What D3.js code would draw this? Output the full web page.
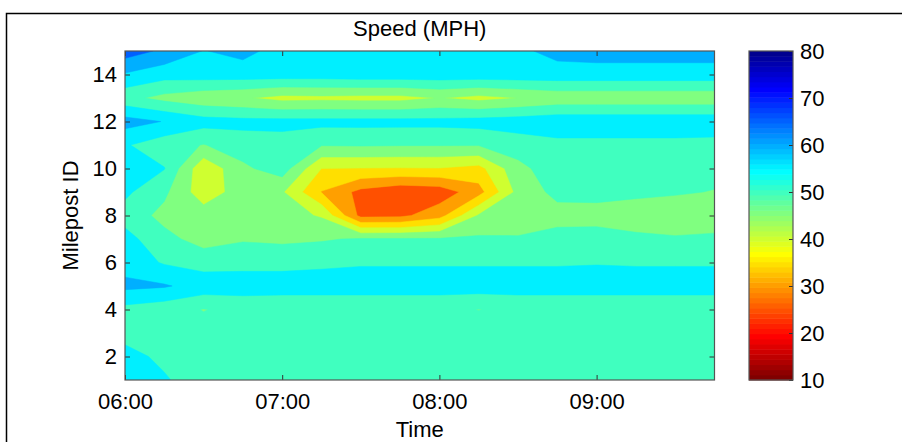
<!DOCTYPE html>
<html>
<head>
<meta charset="utf-8">
<script src="https://cdn.jsdelivr.net/npm/d3@7"></script>
<style>
  body { margin: 0; background: #fff; }
  text { font-family: "Liberation Sans", Arial, sans-serif; }
</style>
</head>
<body>
<div id="chart"></div>
<script>

// samples every 15 min
var times = ["06:00","06:15","06:30","06:45","07:00","07:15","07:30","07:45",
             "08:00","08:15","08:30","08:45","09:00","09:15","09:30","09:45"];
var mileposts = [1,2,3,4,5,6,7,8,9,10,11,12,13,14,15];

// speed (mph), one row per milepost, top row = milepost 15
var speed = [
  [67.5,64,59.8,61.5,58,57.5,57.5,57.5,57.5,58,59,61.5,62,62,62,62],
  [59.5,57,57.5,57.5,57.5,57.5,58,58,58,58,58,58,58,58,58,58],
  [51.5,48.5,46.5,45.5,43.5,43.8,43.5,43.5,45.2,43.5,45.05,46.5,46.5,46.5,46.5,46.5],
  [62,59.8,57,56.5,56.5,56.5,56.5,56.5,56.5,57,57.5,58.5,58.5,58.5,58.5,58.5],
  [55.5,52,49.8,52.5,53,50.3,50.5,50.3,50.3,50.3,52.5,53.5,53.5,53.5,53.5,53.2],
  [58,55.2,41,49,52.5,40,39.8,39.7,39.8,38.3,48.5,53,52,52,51.5,51.5],
  [56,51,42,47.5,45.5,34.8,28.5,26,27,33,46.5,51.5,51.5,51,50.5,49.8],
  [53,48.5,47.5,46.5,47,44.5,28.5,28.8,33,45.5,47,48,48.2,47.5,47,47],
  [56.8,51.5,48,49.5,49,49.5,50.5,50.5,50.5,50.8,50.5,52,52,51,50.5,51],
  [58,54.5,53,53.5,53.5,54,54.5,54.5,54.5,54.5,54.5,54.5,54.7,54.5,54.5,54.5],
  [61.2,60.5,58,57.5,57.5,57.5,57.5,57.5,57.5,57.5,57.5,57.5,57.5,57.5,57.5,57.5],
  [53.5,52,49.8,51.5,51,51,51,51,51,49.9,51,51,51,51,51,51],
  [53.5,52.5,52,52,52,52,52,52,52,52,52,52,52,52,52,52],
  [56.5,54,52,52,52,52,52,52,52,52,52,52,52,52,52,52],
  [57,55.5,52.5,52,52,52,52,52,52,52,52,52,52,52,52,52]
];

var levels = [10,15,20,25,30,35,40,45,50,55,60,65,70,75];
var xTicks = ["06:00","07:00","08:00","09:00"];
var yTicks = [2,4,6,8,10,12,14];
var cbTicks = [10,20,30,40,50,60,70,80];

var width = 902, height = 442;
var plot = {left: 125, right: 714.5, top: 51, bottom: 380};
var cbox = {left: 749, right: 793, top: 51, bottom: 380};

// matlab jet(64), flipped, caxis [10 80]
function jetChan(p) {
  if (p >= 1 && p <= 16) return p / 16;
  if (p >= 17 && p <= 31) return 1;
  if (p >= 32 && p <= 47) return (48 - p) / 16;
  return 0;
}
var jet = d3.range(1, 65).map(function(k) {
  return d3.rgb(255 * jetChan(k - 24), 255 * jetChan(k - 8), 255 * jetChan(k + 8)) + "";
});
function colorOf(v) {
  var k = Math.floor((v - 10) / 70 * 64) + 1;
  k = Math.max(1, Math.min(64, k));
  return jet[64 - k];
}

var parse = d3.timeParse("%H:%M");

var x = d3.scaleTime()
  .domain([parse(times[0]), parse(times[times.length - 1])])
  .range([plot.left, plot.right]);
var y = d3.scaleLinear()
  .domain([1, 15])
  .range([plot.bottom, plot.top]);

// grid coords from d3.contours -> pixels (grid points sit at i + 0.5)
var u = d3.scaleLinear().domain([0.5, times.length - 0.5]).range([x(parse(times[0])), x(parse(times[times.length - 1]))]);
var v = d3.scaleLinear().domain([0.5, mileposts.length - 0.5]).range([y(mileposts[0]), y(mileposts[mileposts.length - 1])]);

var values = [];
speed.slice().reverse().forEach(function(row) { values = values.concat(row); });

var contours = d3.contours()
  .size([times.length, mileposts.length])
  .thresholds(levels)(values);

var path = d3.geoPath(d3.geoTransform({
  point: function(px, py) { this.stream.point(u(px), v(py)); }
}));

var svg = d3.select("#chart").append("svg")
  .attr("width", width)
  .attr("height", height);

svg.append("rect").attr("width", width).attr("height", height).attr("fill", "#fff");

// figure frame
svg.append("path")
  .attr("d", "M6.5,442V13.5H902")
  .attr("fill", "none")
  .attr("stroke", "#000")
  .attr("stroke-width", 1.5);

svg.append("clipPath").attr("id", "clip")
  .append("rect")
  .attr("x", plot.left).attr("y", plot.top)
  .attr("width", plot.right - plot.left).attr("height", plot.bottom - plot.top);

svg.append("g")
  .attr("clip-path", "url(#clip)")
  .selectAll("path")
  .data(contours)
  .enter().append("path")
  .attr("d", path)
  .attr("fill", function(d) { return colorOf(d.value); })
  .attr("stroke", function(d) { return colorOf(d.value); })
  .attr("stroke-width", 0.5);

// axes, ticks inside and mirrored
var fmt = d3.timeFormat("%H:%M");
var xAxis = d3.axisBottom(x)
  .tickValues(xTicks.map(parse))
  .tickFormat(fmt)
  .tickSizeInner(-5)
  .tickSizeOuter(0)
  .tickPadding(13);
var yAxis = d3.axisLeft(y)
  .tickValues(yTicks)
  .tickSizeInner(-5)
  .tickSizeOuter(0)
  .tickPadding(8);

var gx = svg.append("g")
  .attr("transform", "translate(0," + plot.bottom + ")")
  .call(xAxis);
var gy = svg.append("g")
  .attr("transform", "translate(" + plot.left + ",0)")
  .call(yAxis);
svg.append("g")
  .attr("transform", "translate(0," + plot.top + ")")
  .call(d3.axisTop(x).tickValues(xTicks.map(parse)).tickFormat("").tickSizeInner(-5).tickSizeOuter(0));
svg.append("g")
  .attr("transform", "translate(" + plot.right + ",0)")
  .call(d3.axisRight(y).tickValues(yTicks).tickFormat("").tickSizeInner(-5).tickSizeOuter(0));

svg.selectAll(".domain").remove();
svg.selectAll(".tick line").attr("stroke", "#333");
svg.selectAll(".tick text")
  .attr("font-size", 22)
  .attr("font-family", "Liberation Sans, Arial, sans-serif")
  .attr("fill", "#000");

svg.append("rect")
  .attr("x", plot.left).attr("y", plot.top)
  .attr("width", plot.right - plot.left).attr("height", plot.bottom - plot.top)
  .attr("fill", "none")
  .attr("stroke", "#555")
  .attr("stroke-width", 1.2);

// titles
svg.append("text")
  .attr("x", (plot.left + plot.right) / 2).attr("y", 36)
  .attr("text-anchor", "middle").attr("font-size", 22)
  .text("Speed (MPH)");
svg.append("text")
  .attr("x", (plot.left + plot.right) / 2).attr("y", 437)
  .attr("text-anchor", "middle").attr("font-size", 22)
  .text("Time");
svg.append("text")
  .attr("transform", "translate(78," + ((plot.top + plot.bottom) / 2) + ") rotate(-90)")
  .attr("text-anchor", "middle").attr("font-size", 22)
  .text("Milepost ID");

// colorbar
var cb = d3.scaleLinear().domain([10, 80]).range([cbox.bottom, cbox.top]);
var step = 70 / 64;
svg.append("g").selectAll("rect")
  .data(d3.range(64))
  .enter().append("rect")
  .attr("x", cbox.left)
  .attr("width", cbox.right - cbox.left)
  .attr("y", function(i) { return cb(10 + (i + 1) * step); })
  .attr("height", function(i) { return cb(10 + i * step) - cb(10 + (i + 1) * step) + 0.5; })
  .attr("fill", function(i) { return jet[63 - i]; });

svg.append("g")
  .attr("transform", "translate(" + cbox.right + ",0)")
  .call(d3.axisRight(cb).tickValues(cbTicks).tickSizeInner(-4).tickSizeOuter(0).tickPadding(7))
  .call(function(g) {
    g.select(".domain").remove();
    g.selectAll(".tick line").attr("stroke", "#333");
    g.selectAll(".tick text").attr("font-size", 22)
      .attr("font-family", "Liberation Sans, Arial, sans-serif").attr("fill", "#000");
  });

svg.append("rect")
  .attr("x", cbox.left).attr("y", cbox.top)
  .attr("width", cbox.right - cbox.left).attr("height", cbox.bottom - cbox.top)
  .attr("fill", "none")
  .attr("stroke", "#555")
  .attr("stroke-width", 1.2);

</script>
</body>
</html>
